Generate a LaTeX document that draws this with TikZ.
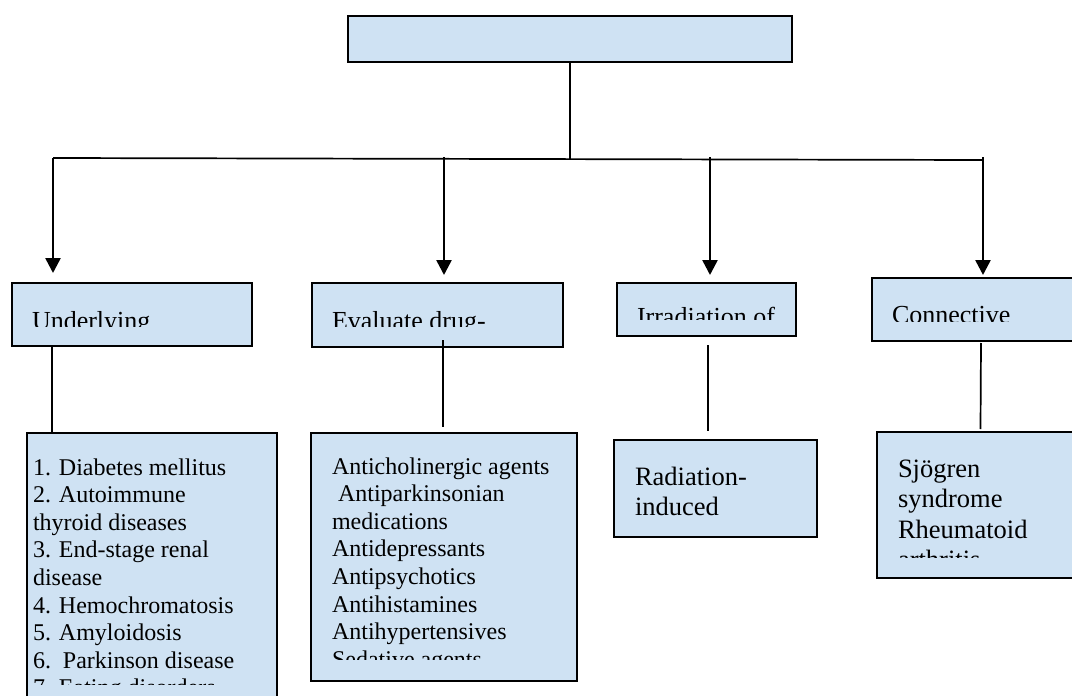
\documentclass[tikz,border=0pt]{standalone}
\usepackage{fontspec}
\setmainfont{Liberation Serif}
\usetikzlibrary{arrows.meta,positioning,calc}
\definecolor{boxblue}{RGB}{207,226,243}

\begin{document}
\begin{tikzpicture}[
    x=1pt, y=-1pt,
    every node/.style={inner sep=0pt, outer sep=0pt},
    blueBox/.style={draw, fill=boxblue, line width=0.5mm, anchor=north west},
    headText/.style={anchor=base west, font=\fontsize{26}{30}\selectfont},
    listText/.style={anchor=base west, align=left, font=\fontsize{24}{27.6}\selectfont},
    bigText/.style={anchor=base west, align=left, font=\fontsize{26.5}{30.5}\selectfont},
    linkline/.style={line width=0.6mm},
    downArrow/.style={line width=0.9mm, -{Triangle[length=15pt,width=15pt]}, shorten >=8pt}
  ]
  \useasboundingbox (0,0) rectangle (1072,696);

  % Top box
  \node[blueBox, minimum width=444pt, minimum height=46pt] (root) at (348,16) {};

  % Second row
  \node[blueBox, minimum width=240pt, minimum height=63pt] (cat1) at (12,283) {};
  \node[blueBox, minimum width=251pt, minimum height=64pt] (cat2) at (312,283) {};
  \node[blueBox, minimum width=179pt, minimum height=53pt] (cat3) at (617,283) {};
  \node[blueBox, minimum width=210pt, minimum height=63pt] (cat4) at (872,278) {};

  % Bottom row
  \node[blueBox, minimum width=250pt, minimum height=280pt] (list1) at (27,433) {};
  \node[blueBox, minimum width=266pt, minimum height=248pt] (list2) at (311,433) {};
  \node[blueBox, minimum width=203pt, minimum height=97pt] (list3) at (614,440) {};
  \node[blueBox, minimum width=205pt, minimum height=146pt] (list4) at (877,432) {};

  % Texts, cut off like in the source (base = last line)
  \begin{scope}
    \clip (12,283) rectangle (252,326);
    \node[headText] (cat1text) at (32,329) {Underlying};
  \end{scope}
  \begin{scope}
    \clip (312,283) rectangle (563,326);
    \node[headText] (cat2text) at (332,329) {Evaluate drug-};
  \end{scope}
  \begin{scope}
    \clip (617,283) rectangle (796,319);
    \node[headText] (cat3text) at (637,325) {Irradiation of};
  \end{scope}
  \begin{scope}
    \clip (872,278) rectangle (1072,321);
    \node[headText] (cat4text) at (892,323) {Connective};
  \end{scope}
  \begin{scope}
    \clip (27,433) rectangle (277,684);
    \node[listText] (list1text) at (33,695.8) {1. Diabetes mellitus\\2. Autoimmune\\thyroid diseases\\3. End-stage renal\\disease\\4. Hemochromatosis\\5. Amyloidosis\\6.\ \ Parkinson disease\\7. Eating disorders};
  \end{scope}
  \begin{scope}
    \clip (311,433) rectangle (577,659);
    \node[listText] (list2text) at (332,667.2) {Anticholinergic agents\\\hspace*{6pt}Antiparkinsonian\\medications\\Antidepressants\\Antipsychotics\\Antihistamines\\Antihypertensives\\Sedative agents};
  \end{scope}
  \node[bigText] (list3text) at (635,515.5) {Radiation-\\induced};
  \begin{scope}
    \clip (877,432) rectangle (1072,557);
    \node[bigText] (list4text) at (898,568.5) {Sjögren\\syndrome\\Rheumatoid\\arthritis};
  \end{scope}

  % Connectors
  \coordinate (hub) at (570,159);
  \coordinate (j1) at (53,158);
  \coordinate (j2) at (444,157);
  \coordinate (j3) at (710,157);
  \coordinate (j4) at (983,157);
  \draw[linkline] (root.south) -- (hub);
  \draw[linkline] (j1) -- ([yshift=-3pt]j4);
  \draw[downArrow, shorten >=10pt] (j1) -- (j1 |- cat1.north);
  \draw[downArrow] (j2) -- (j2 |- cat2.north);
  \draw[downArrow] (j3) -- (j3 |- cat3.north);
  \draw[downArrow, shorten >=3pt] (j4) -- (j4 |- cat4.north);

  \draw[linkline] ([xshift=-80pt]cat1.south) -- ([xshift=-100pt]list1.north);
  \draw[linkline] ([xshift=5.5pt,yshift=7pt]cat2.south) -- ([yshift=6pt,xshift=-1pt]list2.north);
  \draw[linkline] ([xshift=1.5pt,yshift=-9pt]cat3.south) -- ([xshift=-7.5pt,yshift=9pt]list3.north);
  \draw[linkline] ([xshift=4pt,yshift=-2pt]cat4.south) -- ([xshift=1pt,yshift=3pt]list4.north);
\end{tikzpicture}
\end{document}
